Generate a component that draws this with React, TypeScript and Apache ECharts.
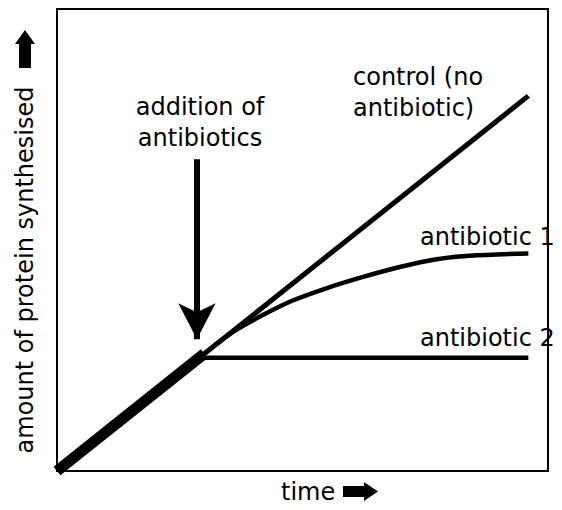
import React, { useEffect, useRef } from "react";
import * as echarts from "echarts";

const controlData: number[][] = [[0, 0], [96, 81.2]];
const earlyData: number[][] = [[0, 0], [30, 25.4]];
const antibiotic1Data: number[][] = [[30, 25.4], [36, 30.2], [42, 33.8], [48, 36.9], [55, 39.6], [62, 41.9], [70, 44.2], [77, 45.8], [84, 46.6], [96, 47.1]];
const antibiotic2Data: number[][] = [[30, 24.5], [96, 24.5]];
const additionArrow: number[][] = [[28.5, 67.5], [28.5, 28.5]];

const FONT = "DejaVu Sans";

export default function App() {
  const ref = useRef<HTMLDivElement>(null);
  useEffect(() => {
    document.body.style.margin = "0";
    if (!ref.current) return;
    const chart = echarts.init(ref.current, null, { renderer: "svg" });
    const txt = { fontFamily: FONT, fontSize: 24, fill: "#000" };
    chart.setOption({
      animation: false,
      backgroundColor: "#fff",
      grid: { left: 57, top: 9, right: 14, bottom: 39, show: true, borderColor: "#000", borderWidth: 2 },
      xAxis: {
        type: "value", min: 0, max: 100,
        axisLine: { show: true, onZero: false, lineStyle: { color: "#000", width: 2 } },
        axisTick: { show: false }, axisLabel: { show: false }, splitLine: { show: false },
      },
      yAxis: {
        type: "value", min: 0, max: 100,
        axisLine: { show: true, onZero: false, lineStyle: { color: "#000", width: 2 } },
        axisTick: { show: false }, axisLabel: { show: false }, splitLine: { show: false },
      },
      series: [
        { type: "line", data: controlData, symbol: "none", lineStyle: { color: "#000", width: 5 } },
        { type: "line", data: antibiotic1Data, symbol: "none", smooth: 0.3, lineStyle: { color: "#000", width: 4.5 } },
        { type: "line", data: antibiotic2Data, symbol: "none", lineStyle: { color: "#000", width: 4.5 } },
        { type: "line", data: earlyData, symbol: "none", lineStyle: { color: "#000", width: 11 } },
        {
          type: "line", data: [], symbol: "none",
          markLine: {
            silent: true,
            symbol: ["none", "arrow"],
            symbolSize: [28, 36],
            label: { show: false },
            lineStyle: { color: "#000", width: 6, type: "solid" },
            data: [[{ coord: additionArrow[0] }, { coord: additionArrow[1] }]],
          },
        },
      ],
      graphic: [
        { type: "text", x: 200, y: 122, style: { ...txt, text: "addition of\nantibiotics", align: "center", verticalAlign: "middle", lineHeight: 31 } },
        { type: "text", x: 353, y: 92, style: { ...txt, text: "control (no\nantibiotic)", align: "left", verticalAlign: "middle", lineHeight: 31 } },
        { type: "text", x: 420, y: 237, style: { ...txt, text: "antibiotic 1", align: "left", verticalAlign: "middle" } },
        { type: "text", x: 420, y: 338, style: { ...txt, text: "antibiotic 2", align: "left", verticalAlign: "middle" } },
        { type: "text", x: 281, y: 492, style: { ...txt, text: "time", align: "left", verticalAlign: "middle" } },
        { type: "polygon", shape: { points: [[343, 486], [364, 486], [364, 482], [378, 491.5], [364, 501], [364, 497], [343, 497]] }, style: { fill: "#000" } },
        { type: "text", x: 25, y: 270, rotation: Math.PI / 2, style: { ...txt, text: "amount of protein synthesised", align: "center", verticalAlign: "middle" } },
        { type: "polygon", shape: { points: [[19, 68], [19, 44], [15, 44], [25, 30], [35, 44], [31, 44], [31, 68]] }, style: { fill: "#000" } },
      ],
    });
    return () => chart.dispose();
  }, []);
  return <div ref={ref} style={{ width: 562, height: 510 }} />;
}
